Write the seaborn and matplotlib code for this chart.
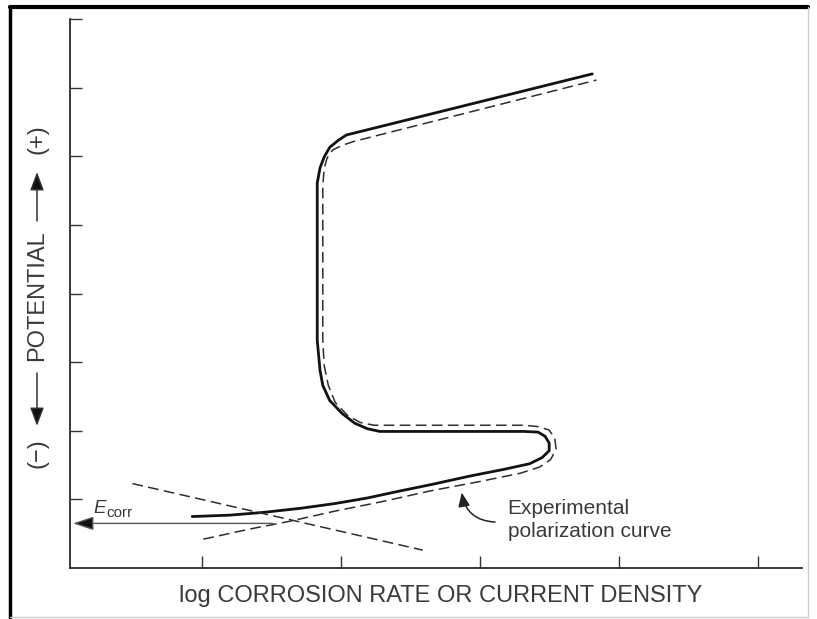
import matplotlib
matplotlib.use("Agg")
import matplotlib.pyplot as plt
import seaborn as sns
from matplotlib.lines import Line2D

# values (x: log current density in tick units, y: potential in tick units)
curve_x = [0.93, 1.20, 1.44, 1.71, 1.96, 2.19, 2.42, 2.66, 2.93, 3.18, 3.36, 3.45, 3.50, 3.50,
           3.47, 3.42, 3.32, 2.28, 2.19, 2.10, 2.01, 1.92, 1.87, 1.85, 1.83, 1.83, 1.85, 1.88,
           1.92, 1.98, 2.04, 2.12, 3.81]
curve_y = [0.75, 0.77, 0.81, 0.87, 0.94, 1.02, 1.12, 1.22, 1.34, 1.44, 1.52, 1.61, 1.71, 1.82,
           1.92, 1.98, 1.99, 1.99, 2.03, 2.11, 2.25, 2.44, 2.66, 2.88, 3.32, 5.61, 5.83, 5.99,
           6.13, 6.23, 6.31, 6.35, 7.20]

# dashed anodic (Tafel) curve, offset from the measured one
anodic_x = [1.01, 1.35, 1.63, 1.96, 2.28, 2.66, 3.00, 3.29, 3.43, 3.51, 3.55, 3.54, 3.50, 3.42,
            3.32, 2.24, 2.14, 2.05, 1.96, 1.91, 1.88, 1.87, 1.87, 1.88, 1.90, 1.94, 2.01, 2.10,
            3.84]
anodic_y = [0.42, 0.57, 0.68, 0.83, 0.96, 1.13, 1.26, 1.38, 1.47, 1.58, 1.73, 1.89, 2.01, 2.06,
            2.08, 2.08, 2.12, 2.22, 2.41, 2.66, 2.95, 3.32, 5.57, 5.82, 5.97, 6.09, 6.16, 6.22,
            7.11]

# dashed cathodic line
cathodic_x = [0.50, 2.59]
cathodic_y = [1.23, 0.26]

ecorr_y = 0.65
ecorr_x = [1.51, 0.072]

x_ticks = [1, 2, 3, 4, 5]
y_ticks = [1, 2, 3, 4, 5, 6, 7, 8]

W, H = 817, 619
TXT = "#3a3a3a"
DASH = (0, (7, 3.5))

sns.set_theme(style="ticks")
plt.rcParams['font.family'] = ['Liberation Sans', 'DejaVu Sans']

fig = plt.figure(figsize=(W / 100, H / 100), dpi=100)
ax = fig.add_axes([70 / W, 1 - 568 / H, (802 - 70) / W, (568 - 19) / H])

sns.lineplot(x=curve_x, y=curve_y, sort=False, estimator=None, color="#121212", lw=2.0, ax=ax)
sns.lineplot(x=anodic_x, y=anodic_y, sort=False, estimator=None, color="#2e2e2e", lw=1.1,
             linestyle=DASH, ax=ax)
sns.lineplot(x=cathodic_x, y=cathodic_y, sort=False, estimator=None, color="#2e2e2e", lw=1.1,
             linestyle=DASH, ax=ax)

ax.set_xlim(0.05, 5.32)
ax.set_ylim(0, 8)
ax.set_xticks(x_ticks)
ax.set_yticks(y_ticks)
ax.tick_params(direction="in", length=8.5, width=1.0, color="#333333",
               left=True, bottom=True, labelleft=False, labelbottom=False)
sns.despine(ax=ax)
for side in ["left", "bottom"]:
    ax.spines[side].set_color("#2a2a2a")
    ax.spines[side].set_linewidth(1.3)

# E_corr arrow
ax.annotate("", xy=(ecorr_x[1], ecorr_y), xytext=(ecorr_x[0], ecorr_y),
            arrowprops=dict(arrowstyle="-|>,head_length=0.9,head_width=0.3", mutation_scale=14,
                            ec="#555555", fc="#111111", lw=1.0, shrinkA=0, shrinkB=0))
ax.text(0.22, 0.80, "E", fontsize=13.5, style="italic", color=TXT, va="baseline")
ax.text(0.315, 0.74, "corr", fontsize=11, color=TXT, va="baseline")

# annotation of the experimental curve
ax.annotate("", xy=(2.87, 1.10), xytext=(3.11, 0.67),
            arrowprops=dict(arrowstyle="-|>,head_length=0.6,head_width=0.25", mutation_scale=14,
                            color="#222222", lw=1.1, shrinkA=0, shrinkB=0,
                            connectionstyle="arc3,rad=-0.4"))
ax.text(3.20, 1.01, "Experimental\npolarization curve", fontsize=15, color=TXT,
        va="top", ha="left", linespacing=1.3)

ax.set_xlabel("log CORROSION RATE OR CURRENT DENSITY", fontsize=17, color=TXT)
ax.xaxis.set_label_coords((441 - 70) / 732, -(585 - 568) / 549)

# y label pieces, built in figure pixels
def fy(py):
    return 1 - py / H

fig.text(37 / W, fy(139), "(+)", rotation=90, fontsize=17, color=TXT, ha="center", va="center")
fig.text(37 / W, fy(296), "POTENTIAL", rotation=90, fontsize=17, color=TXT, ha="center", va="center")
fig.text(37 / W, fy(453), "(\u2212)", rotation=90, fontsize=17, color=TXT, ha="center", va="center")
arrow_kw = dict(arrowstyle="-|>,head_length=0.8,head_width=0.3", mutation_scale=14,
                ec="#333333", fc="#111111", lw=1.1, shrinkA=0, shrinkB=0)
fig.add_artist(matplotlib.patches.FancyArrowPatch((37 / W, fy(221)), (37 / W, fy(172)),
                                                  transform=fig.transFigure, **arrow_kw))
fig.add_artist(matplotlib.patches.FancyArrowPatch((37 / W, fy(373)), (37 / W, fy(426)),
                                                  transform=fig.transFigure, **arrow_kw))

# scanned page frame
fig.add_artist(Line2D([10 / W, 808 / W], [fy(7), fy(7)], transform=fig.transFigure,
                      color="black", lw=3))
fig.add_artist(Line2D([10 / W, 10 / W], [fy(7), 0], transform=fig.transFigure,
                      color="black", lw=2.5))
fig.add_artist(Line2D([808 / W, 808 / W], [fy(7), fy(617)], transform=fig.transFigure,
                      color="#cccccc", lw=1))
fig.add_artist(Line2D([10 / W, 808 / W], [fy(617), fy(617)], transform=fig.transFigure,
                      color="#cccccc", lw=1))

fig.savefig("out.png", dpi=100)
